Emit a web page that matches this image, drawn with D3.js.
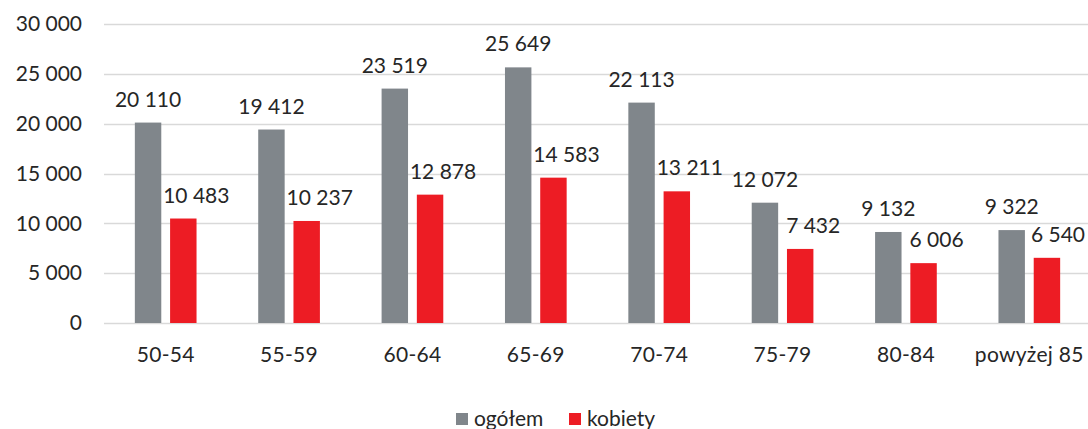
<!DOCTYPE html>
<html><head><meta charset="utf-8">
<script src="https://cdn.jsdelivr.net/npm/d3@7"></script>
<style>
html,body{margin:0;padding:0;background:#fff;}
svg{display:block;font-family:Lato, "Open Sans", sans-serif;}
</style></head>
<body>
<svg id="c" width="1088" height="429"></svg>
<script>
const categories = ["50-54","55-59","60-64","65-69","70-74","75-79","80-84","powyżej 85"];
const seriesNames = ["ogółem","kobiety"];
const ogolem = [20110,19412,23519,25649,22113,12072,9132,9322];
const kobiety = [10483,10237,12878,14583,13211,7432,6006,6540];
const yTicks = [0,5000,10000,15000,20000,25000,30000];
const colors = ["#80868b","#ed1c24"];

const svg = d3.select("#c");
const W = 1088, H = 429;
const FS = 21;
const x0 = d3.scaleBand().domain(categories).range([104, 1091]).paddingInner(0.5).paddingOuter(0.25);
const x1 = d3.scaleBand().domain(seriesNames).range([0, x0.bandwidth()]).paddingInner(0.25);
const y = d3.scaleLinear().domain([0,30000]).range([323, 24]);

const loc = d3.formatLocale({decimal:",", thousands:" ", grouping:[3], currency:["",""]});
const fmt = loc.format(",d");

// grid
svg.append("g").selectAll("line").data(yTicks).join("line")
  .attr("x1",104).attr("x2",W).attr("y1",d=>Math.round(y(d))+0.5).attr("y2",d=>Math.round(y(d))+0.5)
  .attr("stroke","#d9d9d9").attr("stroke-width",1.5);

// y axis labels
const yAxis = d3.axisLeft(y).tickValues(yTicks).tickSize(0).tickPadding(0).tickFormat(fmt);
const ya = svg.append("g").attr("transform","translate(82,0)").call(yAxis);
ya.select(".domain").remove();
ya.selectAll("text").attr("font-size",FS).attr("fill","#262626").attr("font-family","Lato, sans-serif");

// x axis labels
const xAxis = d3.axisBottom(x0).tickSize(0).tickPadding(0);
const xa = svg.append("g").attr("transform","translate(0,347)").call(xAxis);
xa.select(".domain").remove();
xa.selectAll("text").attr("font-size",FS).attr("fill","#262626").attr("font-family","Lato, sans-serif").attr("dy","0.71em").attr("letter-spacing","0.3px");

const data = categories.map((c,i)=>({cat:c, vals:[ogolem[i], kobiety[i]]}));
const groups = svg.append("g").selectAll("g").data(data).join("g")
  .attr("transform",d=>`translate(${x0(d.cat)},0)`);
groups.selectAll("rect").data(d=>d.vals.map((v,j)=>({v, s:seriesNames[j], j}))).join("rect")
  .attr("x",d=>x1(d.s)).attr("width",x1.bandwidth())
  .attr("y",d=>y(d.v)).attr("height",d=>y(0)-y(d.v))
  .attr("fill",d=>colors[d.j]);

// value labels
groups.selectAll("text.v").data(d=>d.vals.map((v,j)=>({v, s:seriesNames[j], j, gx:x0(d.cat)}))).join("text")
  .attr("class","v")
  .attr("x",d=>x1(d.s)+x1.bandwidth()/2 + (d.j===1?13:0))
  .attr("y",d=>y(d.v)-16)
  .attr("text-anchor","middle").attr("font-size",FS).attr("fill","#262626")
  .text(d=>fmt(d.v))
  .each(function(d){
    const w = this.getComputedTextLength();
    const cx = d.gx + (+this.getAttribute("x"));
    const maxC = W - 3 - w/2;
    if (cx > maxC) this.setAttribute("x", (+this.getAttribute("x")) - (cx - maxC));
  });

// legend
const leg = svg.append("g");
const legX = [456, 569];
seriesNames.forEach((s,i)=>{
  leg.append("rect").attr("x",legX[i]).attr("y",413).attr("width",12).attr("height",12).attr("fill",colors[i]);
  leg.append("text").attr("x",legX[i]+18).attr("y",426).attr("font-size",FS).attr("fill","#262626").text(s);
});
</script>
</body></html>
